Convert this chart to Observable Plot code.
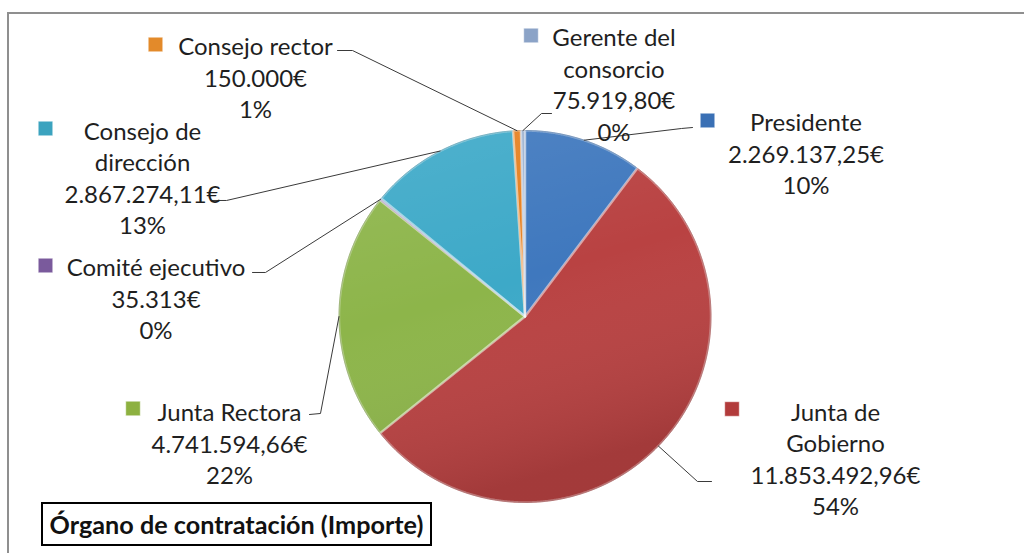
<!DOCTYPE html>
<html><head><meta charset="utf-8">
<script src="https://cdn.jsdelivr.net/npm/d3@7"></script>
<script src="https://cdn.jsdelivr.net/npm/@observablehq/plot@0.6"></script>
<style>
html,body{margin:0;padding:0;background:#fff;}
#wrap{position:relative;width:1024px;height:553px;overflow:hidden;}
#frame{position:absolute;left:7px;top:12px;width:1100px;height:600px;border:2px solid #8f8f8f;box-sizing:border-box;}
#chart{position:absolute;left:0;top:0;}
#title{position:absolute;left:41px;top:502px;width:391px;height:44px;border:2px solid #000;box-sizing:border-box;
  font-family:Lato,sans-serif;font-weight:bold;font-size:25.2px;color:#111;display:flex;align-items:center;justify-content:center;background:#fff;white-space:nowrap;}
</style></head><body>
<div id="wrap"><div id="frame"></div><div id="chart"></div><div id="title">Órgano de contratación (Importe)</div></div>
<script>
// ---- data ----
const categories = ["Presidente","Junta de Gobierno","Junta Rectora","Comité ejecutivo","Consejo de dirección","Consejo rector","Gerente del consorcio"];
const values = [2269137.25, 11853492.96, 4741594.66, 35313, 2867274.11, 150000, 75919.80];
const nameLines = [["Presidente"],["Junta de","Gobierno"],["Junta Rectora"],["Comité ejecutivo"],["Consejo de","dirección"],["Consejo rector"],["Gerente del","consorcio"]];
const sliceColors = ["#3f78be","#b94242","#8db54a","#7d5fa0","#3da9c8","#e6801f","#8fa8cb"];
const keyColors = ["#3a70b5","#b23b3b","#8db140","#7a5a9c","#3ba3bf","#e38a2a","#8ba3c7"];
// ---- layout (chart space, pie radius = 1) ----
const R = 186, CX = 524.5, CY = 316;
const labelPos = [[1.5108,0.8817],[1.6694,-0.7608],[-1.5887,-0.6774],[-1.9839,0.1022],[-2.0565,0.75],[-1.449,1.290],[0.4785,1.2527]];
const keyPos = [[0.9812,1.0538],[1.1129,-0.4973],[-2.1075,-0.4946],[-2.578,0.2742],[-2.578,1.0108],[-1.9866,1.4624],[0.0323,1.5108]];
const leaderPts = [
  [[0.9005,1.0161],[0.8414,1.0108]],
  [[1.0027,-0.8871],[0.9274,-0.8871]],
  [[-1.1586,-0.5269],[-1.0995,-0.5215]],
  [[-1.4651,0.2366],[-1.3952,0.2366]],
  [[-1.6855,0.6237],[-1.6048,0.6237]],
  [[-1.0081,1.4301],[-0.9274,1.4301]],
  [[0.1425,1.0914],[0.0887,1.0914]]
];

const total = d3.sum(values);
const loc = d3.formatLocale({decimal: ",", thousands: ".", grouping: [3], currency: ["", "€"]});
const f0 = loc.format(",.0f"), f2 = loc.format(",.2f");
const valueLabel = v => (Number.isInteger(v) ? f0(v) : f2(v)) + "€";

const arcs = d3.pie().sort(null).value(d => d)(values);
const slicePts = [];
arcs.forEach((a, i) => {
  slicePts.push({name: categories[i], color: sliceColors[i], x: 0, y: 0});
  const n = Math.max(2, Math.ceil((a.endAngle - a.startAngle) / 0.005));
  for (let k = 0; k <= n; k++) {
    const t = a.startAngle + (a.endAngle - a.startAngle) * k / n;
    slicePts.push({name: categories[i], color: sliceColors[i], x: Math.sin(t), y: Math.cos(t)});
  }
  slicePts.push({name: categories[i], color: sliceColors[i], x: 0, y: 0});
});
const discPts = d3.range(0, 361).map(k => ({x: Math.sin(k * Math.PI / 180), y: Math.cos(k * Math.PI / 180)}));

const leaders = [];
arcs.forEach((a, i) => {
  const mid = (a.startAngle + a.endAngle) / 2;
  leaderPts[i].forEach(p => leaders.push({name: categories[i], x: p[0], y: p[1]}));
  leaders.push({name: categories[i], x: Math.sin(mid), y: Math.cos(mid)});
});

const labels = categories.map((c, i) => ({
  name: c, x: labelPos[i][0], y: labelPos[i][1],
  text: [...nameLines[i], valueLabel(values[i]), Math.round(values[i] / total * 100) + "%"].join("\n")
}));
const keys = categories.map((c, i) => ({name: c, x: keyPos[i][0], y: keyPos[i][1], color: keyColors[i]}));

const plot = Plot.plot({
  width: 1024, height: 553, margin: 0,
  style: {background: "transparent"},
  x: {domain: [-CX / R, (1024 - CX) / R], axis: null},
  y: {domain: [(CY - 553) / R, CY / R], axis: null},
  marks: [
    Plot.line(slicePts, {x: "x", y: "y", z: "name", fill: "color", stroke: "color", strokeWidth: 1}),
    Plot.line(discPts, {x: "x", y: "y", fill: "url(#shade)", stroke: "#000000", strokeOpacity: 0.18, strokeWidth: 1}),
    Plot.line(slicePts, {x: "x", y: "y", z: "name", fill: "none", stroke: "#ffffff", strokeOpacity: 0.3, strokeWidth: 2.5}),
    Plot.line(leaders, {x: "x", y: "y", z: "name", stroke: "#3a3a3a", strokeWidth: 1}),
    Plot.dot(keys, {x: "x", y: "y", symbol: "square", r: 8.2, fill: "color", stroke: "#ffffff", strokeOpacity: 0.5, strokeWidth: 1}),
    Plot.text(labels, {x: "x", y: "y", text: "text", fontSize: 24, lineHeight: 1.31, lineAnchor: "middle", textAnchor: "middle", fill: "#1f1f1f", fontFamily: "Lato, sans-serif"})
  ]
});
const ns = "http://www.w3.org/2000/svg";
const defs = document.createElementNS(ns, "defs");
defs.innerHTML = `<linearGradient id="shade" x1="0" y1="0" x2="0.3" y2="1">
  <stop offset="0" stop-color="#ffffff" stop-opacity="0.10"/>
  <stop offset="0.5" stop-color="#ffffff" stop-opacity="0"/>
  <stop offset="1" stop-color="#000000" stop-opacity="0.12"/></linearGradient>`;
plot.insertBefore(defs, plot.firstChild);
document.getElementById("chart").appendChild(plot);
</script>
</body></html>
